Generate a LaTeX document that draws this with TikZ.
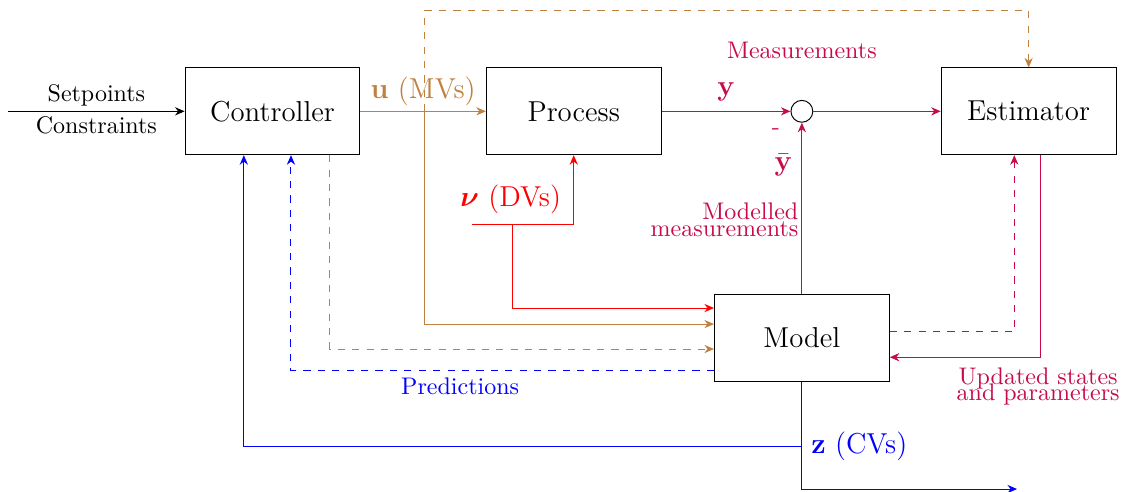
\documentclass[tikz,border=0pt]{standalone}
\usepackage{amsmath}
\usepackage{amssymb}
\usetikzlibrary{arrows.meta, positioning, calc}
\definecolor{mvcol}{rgb}{0.75,0.5,0.25}
\definecolor{meascol}{rgb}{0.78,0.04,0.30}
\tikzset{
  block/.style={draw, minimum width=2.56cm, minimum height=1.27cm, font=\large},
  sumnode/.style={draw, circle, minimum size=0.32cm, inner sep=0pt},
  flow/.style={-{Stealth[length=1.4mm, width=1.2mm]}},
  lbl/.style={font=\normalsize, inner sep=1pt},
  biglbl/.style={font=\large, inner sep=2pt},
}

\begin{document}
\begin{tikzpicture}
  \useasboundingbox (0,0) rectangle (16.50,-7.20);

  % blocks
  \node[block] (ctrl) at (3.99,-1.63) {Controller};
  \node[block] (proc) at (8.40,-1.63) {Process};
  \node[block] (est) at (15.06,-1.63) {Estimator};
  \node[block] (model) at (11.74,-4.95) {Model};
  \node[sumnode] (sum) at (11.74,-1.63) {};

  % branch points
  \coordinate (in) at (0.12,-1.63);
  \coordinate (ubr) at (6.22,-1.63);
  \coordinate (utop) at (6.22,-0.15);
  \coordinate (nustart) at (6.91,-3.28);
  \coordinate (nubr) at (7.50,-3.28);
  \coordinate (zsplit) at (11.74,-6.53);
  \coordinate (zout) at (14.89,-7.16);

  % inputs
  \draw[flow] (in) -- (ctrl) node[midway, above, lbl, yshift=1pt]{Setpoints} node[midway, below, lbl, yshift=-1pt]{Constraints};
  \draw[flow, mvcol] (ctrl) -- (proc) node[midway, above, biglbl]{$\mathbf{u}$ (MVs)};
  \draw[flow, mvcol, dashed] (ubr) -- (utop) -| (est.north);
  \draw[flow, mvcol] (ubr) |- ([yshift=0.205cm]model.west);
  \draw[flow, mvcol, dashed] ([xshift=0.84cm]ctrl.south) |- ([yshift=-0.16cm]model.west);

  % disturbances
  \draw[flow, red] (nustart) -| (proc.south) node[pos=0.19, above, biglbl, yshift=2pt]{$\boldsymbol{\nu}$ (DVs)};
  \draw[flow, red] (nubr) |- ([yshift=0.44cm]model.west);

  % measurements
  \draw[flow, meascol] (proc) -- (sum) node[midway, above, biglbl, yshift=2pt]{$\mathbf{y}$};
  \draw[flow, meascol] (sum) -- (est);
  \draw[flow, meascol] (model.north) -- (sum.south);
  \node[lbl, meascol] (meas) at (11.74,-0.74) {Measurements};
  \node[lbl, meascol] (minus) at (11.36,-1.93) {-};
  \node[biglbl, meascol] (ybar) at (11.47,-2.42) {$\bar{\mathbf{y}}$};
  \node[lbl, meascol, anchor=east, align=right] (modmeas) at (11.73,-3.22) {Modelled\\[-5pt]measurements};

  % estimator feedback
  \draw[flow, meascol] ([xshift=0.18cm]est.south) |- ([yshift=-0.28cm]model.east);
  \draw[flow, meascol, dashed] ([yshift=0.09cm]model.east) -| ([xshift=-0.21cm]est.south);
  \node[lbl, meascol, align=center] (upd) at (15.20,-5.66) {Updated states\\[-5pt]and parameters};

  % predictions and outputs
  \draw[flow, blue, dashed] ([yshift=-0.47cm]model.west) -| ([xshift=0.27cm]ctrl.south) node[pos=0.3, below, lbl, yshift=-2pt]{Predictions};
  \draw[flow, blue] (model.south) -- (zsplit) -| ([xshift=-0.42cm]ctrl.south);
  \draw[flow, blue] (zsplit) |- (zout);
  \node[biglbl, blue, anchor=west] (zlbl) at (11.80,-6.53) {$\mathbf{z}$ (CVs)};
\end{tikzpicture}
\end{document}
